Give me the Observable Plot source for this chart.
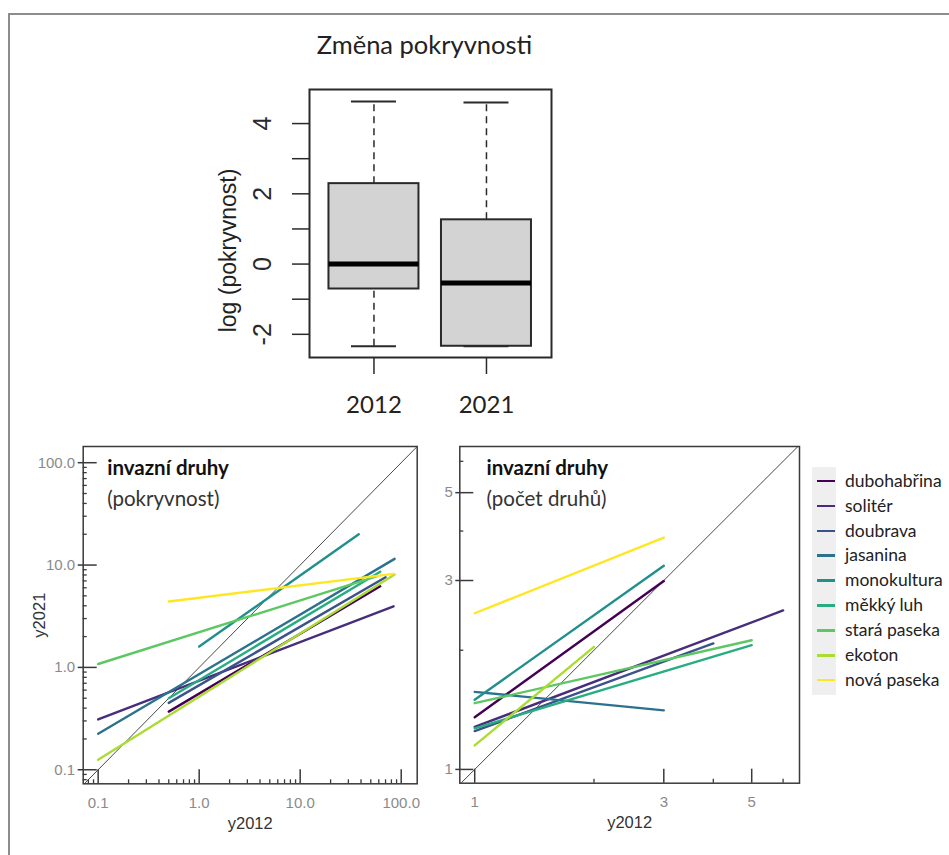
<!DOCTYPE html>
<html><head><meta charset="utf-8">
<script src="https://cdn.jsdelivr.net/npm/d3@7"></script>
<script src="https://cdn.jsdelivr.net/npm/@observablehq/plot@0.6"></script>
<style>
html,body{margin:0;padding:0;background:#fff;}
#page{position:relative;width:949px;height:855px;overflow:hidden;background:#fff;}
.panel{position:absolute;}
#border{position:absolute;left:8px;top:13px;right:-5px;bottom:-5px;border-top:2px solid #8c8c8c;border-left:2px solid #8c8c8c;pointer-events:none;}
#legend{position:absolute;left:812px;top:467px;width:137px;height:230px;font-family:Lato,sans-serif;font-size:17.5px;color:#222;}
#legend .bg{position:absolute;left:0;top:0;width:24px;height:228px;background:#efefef;}
#legend .item{position:absolute;left:0;height:20px;width:137px;}
#legend .key{position:absolute;left:5px;top:9px;width:18px;height:2.5px;}
#legend .lab{position:absolute;left:33px;top:0;line-height:20px;white-space:nowrap;}
</style></head>
<body><div id="page"></div>
<script>
// ---------- data ----------
const boxTitle = "Změna pokryvnosti";
const boxYLabel = "log (pokryvnost)";
const years = ["2012", "2021"];
const boxQ1 = [-0.71, -2.34];
const boxMedian = [0.0, -0.54];
const boxQ3 = [2.29, 1.26];
const whiskerLow = [-2.34, -2.34];
const whiskerHigh = [4.63, 4.60];
const boxTicks = [-2, -1, 0, 1, 2, 3, 4];
const boxTickLabels = [-2, 0, 2, 4];

const categories = ["dubohabřina", "solitér", "doubrava", "jasanina", "monokultura", "měkký luh", "stará paseka", "ekoton", "nová paseka"];
const palette = ["#440154", "#472D7B", "#3B528B", "#2C728E", "#21908C", "#27AD81", "#5DC863", "#AADC32", "#FDE725"];

// left panel: cover (pokryvnost), fitted lines y2012 -> y2021
const coverX1 = [0.5, 0.1, 0.5, 0.1, 1.0, 0.5, 0.1, 0.1, 0.5];
const coverY1 = [0.37, 0.31, 0.45, 0.225, 1.6, 0.5, 1.08, 0.125, 4.4];
const coverX2 = [62, 84, 70, 86, 38, 62, 58, 86, 84];
const coverY2 = [6.2, 3.95, 7.6, 11.5, 20, 8.6, 7.8, 8.1, 8.2];
const coverXDomain = [0.0711, 144];
const coverYDomain = [0.0729, 144];
const coverMajor = [0.1, 1, 10, 100];
const coverMinor = [0.08, 0.09, 0.2, 0.3, 0.4, 0.5, 0.6, 0.7, 0.8, 0.9, 2, 3, 4, 5, 6, 7, 8, 9, 20, 30, 40, 50, 60, 70, 80, 90];

// right panel: number of species (počet druhů)
const countX1 = [1, 1, 1, 1, 1, 1, 1, 1, 1];
const countY1 = [1.355, 1.28, 1.25, 1.57, 1.5, 1.27, 1.47, 1.15, 2.48];
const countX2 = [3, 6, 4, 3, 3, 5, 5, 2, 3];
const countY2 = [2.99, 2.52, 2.08, 1.41, 3.27, 2.06, 2.12, 2.04, 3.85];
const countXDomain = [0.917, 6.6];
const countYDomain = [0.923, 6.54];
const countMajor = [1, 3, 5];
const countMinor = [2, 4, 6];

// ---------- build ----------
const page = document.getElementById("page");
const R = "Liberation Sans";
const C = "Lato";
const ink = "#2a2a2a";
const grayText = "#8a8a8a";

function place(node, left, top) {
  node.classList.add("panel");
  node.style.left = left + "px";
  node.style.top = top + "px";
  page.appendChild(node);
}

// Box plot
const boxRows = years.map((year, i) => ({year, pos: i + 1, q1: boxQ1[i], med: boxMedian[i], q3: boxQ3[i], lo: whiskerLow[i], hi: whiskerHigh[i]}));
const boxHalf = 0.4, capHalf = 0.2;
const boxPlot = Plot.plot({
  width: 949, height: 430,
  marginLeft: 309, marginRight: 398, marginTop: 89, marginBottom: 73,
  style: {background: "transparent", fontFamily: R, color: ink},
  x: {type: "linear", domain: [0.427, 2.578], axis: null},
  y: {domain: [-2.66, 4.97], axis: null},
  marks: [
    Plot.ruleX(boxRows, {x: "pos", y1: "q3", y2: "hi", stroke: ink, strokeWidth: 1.5, strokeDasharray: "7,5"}),
    Plot.ruleX(boxRows, {x: "pos", y1: "lo", y2: "q1", stroke: ink, strokeWidth: 1.5, strokeDasharray: "7,5"}),
    Plot.ruleY(boxRows, {y: "hi", x1: d => d.pos - capHalf, x2: d => d.pos + capHalf, stroke: ink, strokeWidth: 2}),
    Plot.ruleY(boxRows, {y: "lo", x1: d => d.pos - capHalf, x2: d => d.pos + capHalf, stroke: ink, strokeWidth: 2}),
    Plot.rect(boxRows, {x1: d => d.pos - boxHalf, x2: d => d.pos + boxHalf, y1: "q1", y2: "q3", fill: "#d3d3d3", stroke: ink, strokeWidth: 2}),
    Plot.ruleY(boxRows, {y: "med", x1: d => d.pos - boxHalf, x2: d => d.pos + boxHalf, stroke: "#000", strokeWidth: 5}),
    Plot.frame({stroke: ink, strokeWidth: 2}),
    Plot.tickY(boxTicks, {y: d => d, insetLeft: -17, insetRight: 242, stroke: ink, strokeWidth: 1.5}),
    Plot.tickX([1, 2], {x: d => d, insetBottom: -17, insetTop: 268, stroke: ink, strokeWidth: 1.5}),
    Plot.text(boxTickLabels, {y: d => d, text: d => String(d), frameAnchor: "left", dx: -47, rotate: -90, fontSize: 25, fill: ink, textAnchor: "middle", lineAnchor: "middle"}),
    Plot.text(years, {x: (d, i) => i + 1, text: d => d, frameAnchor: "bottom", dy: 48, fontSize: 24, fontFamily: C, fill: "#222", textAnchor: "middle", lineAnchor: "middle"}),
    Plot.text([boxYLabel], {frameAnchor: "left", dx: -81, dy: 27, rotate: -90, fontSize: 23, fill: "#222", textAnchor: "middle", lineAnchor: "middle"}),
    Plot.text([boxTitle], {frameAnchor: "top", dx: -6, dy: -44, fontSize: 25.5, fontFamily: C, fill: "#222", textAnchor: "middle", lineAnchor: "middle"})
  ]
});
place(boxPlot, 0, 0);

function scatterPanel(opts) {
  const rows = categories.map((cat, i) => ({cat, x1: opts.x1[i], y1: opts.y1[i], x2: opts.x2[i], y2: opts.y2[i]}));
  const W = opts.width, H = 425;
  const frameW = W - opts.marginLeft - opts.marginRight;
  const frameH = H - opts.marginTop - opts.marginBottom;
  const diag = [{a: Math.min(opts.xDomain[0], opts.yDomain[0]), b: Math.max(opts.xDomain[1], opts.yDomain[1])}];
  const marks = [
    Plot.link(diag, {x1: "a", y1: "a", x2: "b", y2: "b", stroke: "#333", strokeWidth: 0.9, clip: true}),
    Plot.link(rows, {x1: "x1", y1: "y1", x2: "x2", y2: "y2", stroke: "cat", strokeWidth: 2.4, strokeLinecap: "round"}),
    Plot.frame({stroke: "#3a3a3a", strokeWidth: 1.5}),
    Plot.tickX(opts.xMajor, {x: d => d, insetTop: frameH - 14, stroke: "#3a3a3a", strokeWidth: 1.5}),
    Plot.tickX(opts.xMinor, {x: d => d, insetTop: frameH - 4, stroke: "#3a3a3a", strokeWidth: 1.3}),
    Plot.tickY(opts.yMajor, {y: d => d, insetLeft: -opts.outTick, insetRight: frameW - 14, stroke: "#3a3a3a", strokeWidth: 1.5}),
    Plot.tickY(opts.yMinor, {y: d => d, insetRight: frameW - 4, stroke: "#3a3a3a", strokeWidth: 1.3}),
    Plot.text(opts.xMajor, {x: d => d, text: opts.fmt, frameAnchor: "bottom", dy: 19, fontSize: 15, fill: grayText, textAnchor: "middle", lineAnchor: "middle"}),
    Plot.text(opts.yMajor, {y: d => d, text: opts.fmt, frameAnchor: "left", dx: -opts.outTick - 3, fontSize: 15, fill: grayText, textAnchor: "end", lineAnchor: "middle"}),
    Plot.text(["y2012"], {frameAnchor: "bottom", dy: 40, fontSize: 16.5, fill: "#333", textAnchor: "middle", lineAnchor: "middle"}),
    Plot.text(["invazní druhy"], {frameAnchor: "top-left", dx: opts.noteDx, dy: 22, fontSize: 20.5, fontWeight: "bold", fontFamily: C, fill: "#111", textAnchor: "start", lineAnchor: "middle"}),
    Plot.text([opts.subtitle], {frameAnchor: "top-left", dx: opts.noteDx, dy: 53, fontSize: 20.5, fontFamily: C, fill: "#333", textAnchor: "start", lineAnchor: "middle"})
  ];
  if (opts.yTitle) marks.push(Plot.text([opts.yTitle], {frameAnchor: "left", dx: -43, rotate: -90, fontSize: 16.5, fill: "#333", textAnchor: "middle", lineAnchor: "middle"}));
  return Plot.plot({
    width: W, height: H,
    marginLeft: opts.marginLeft, marginRight: opts.marginRight, marginTop: opts.marginTop, marginBottom: opts.marginBottom,
    style: {background: "transparent", fontFamily: R},
    x: {type: "log", domain: opts.xDomain, axis: null},
    y: {type: "log", domain: opts.yDomain, axis: null},
    color: {type: "ordinal", domain: categories, range: palette},
    marks
  });
}

const left = scatterPanel({
  width: 430, marginLeft: 82.7, marginRight: 13.3, marginTop: 16, marginBottom: 71.7,
  x1: coverX1, y1: coverY1, x2: coverX2, y2: coverY2,
  xDomain: coverXDomain, yDomain: coverYDomain,
  xMajor: coverMajor, xMinor: coverMinor, yMajor: coverMajor, yMinor: coverMinor,
  fmt: d3.format(".1f"), outTick: 5, noteDx: 24, subtitle: "(pokryvnost)", yTitle: "y2021"
});
place(left, 0, 430);

const right = scatterPanel({
  width: 380, marginLeft: 29.3, marginRight: 11, marginTop: 16, marginBottom: 72.3,
  x1: countX1, y1: countY1, x2: countX2, y2: countY2,
  xDomain: countXDomain, yDomain: countYDomain,
  xMajor: countMajor, xMinor: countMinor, yMajor: countMajor, yMinor: countMinor,
  fmt: d3.format("d"), outTick: 4, noteDx: 26.7, subtitle: "(počet druhů)", yTitle: null
});
place(right, 430, 430);

// legend
const legend = document.createElement("div");
legend.id = "legend";
legend.innerHTML = `<div class="bg"></div>` + categories.map((c, i) =>
  `<div class="item" style="top:${3.7 + i * 24.9}px"><span class="key" style="background:${palette[i]}"></span><span class="lab">${c}</span></div>`).join("");
page.appendChild(legend);

const border = document.createElement("div");
border.id = "border";
page.appendChild(border);
</script>
</body></html>
